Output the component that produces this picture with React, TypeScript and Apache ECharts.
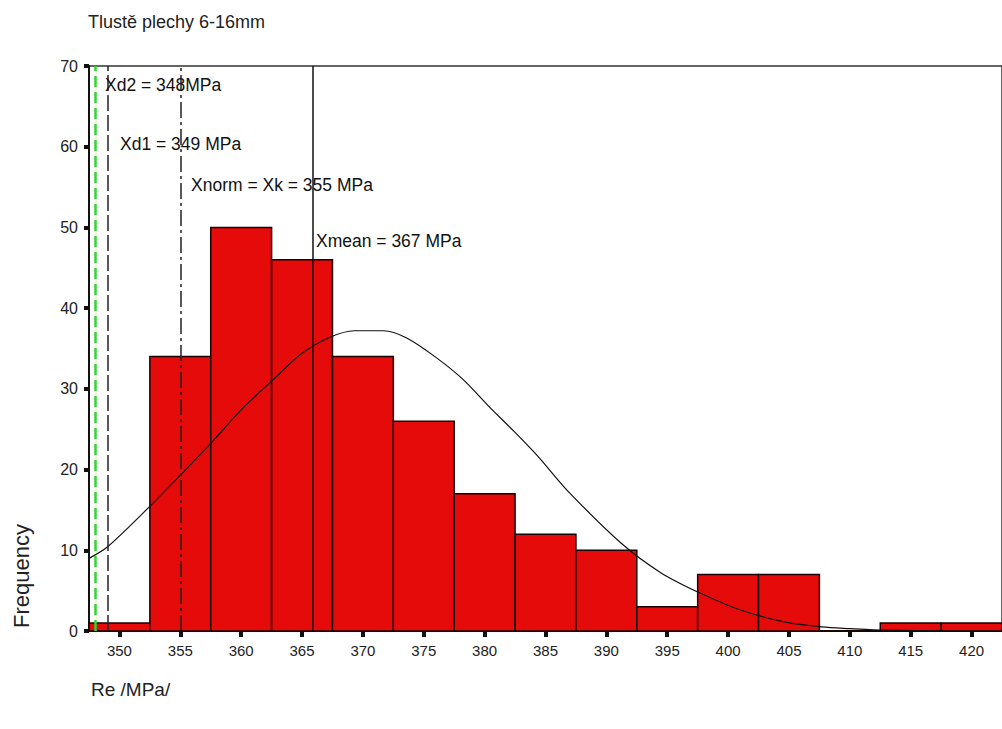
import React, { useEffect, useRef } from "react";
import * as echarts from "echarts";

const binCenters = [350, 355, 360, 365, 370, 375, 380, 385, 390, 395, 400, 405, 410, 415, 420];
const counts = [1, 34, 50, 46, 34, 26, 17, 12, 10, 3, 7, 7, 0, 1, 1];
const BIN_WIDTH = 5;

const curveX = [347.5, 349, 352.6, 355, 357.6, 360, 362.6, 365, 367.3, 369.3, 371.7, 373.6, 376, 378.2, 380.3, 382.5, 384.4, 386.8, 391.2, 394.5, 397.7, 401, 404.7, 407.7, 410, 413, 418, 422.5];
const curveY = [9.0, 10.4, 15.6, 19.3, 23.4, 27.4, 31.1, 34.4, 36.4, 37.2, 37.2, 36.3, 33.9, 31.2, 27.9, 24.6, 21.6, 17.4, 10.9, 7.2, 4.7, 2.6, 1.1, 0.5, 0.3, 0.1, 0.0, 0.0];

const xTicks = [350, 355, 360, 365, 370, 375, 380, 385, 390, 395, 400, 405, 410, 415, 420];

const refNames = ["Xd2", "Xd1", "Xnorm", "Xmean"];
const refValues = [348, 349, 355, 365.9];
const refLabels = ["Xd2 = 348MPa", "Xd1 = 349 MPa", "Xnorm = Xk = 355 MPa", "Xmean = 367 MPa"];

const FONT = "'Liberation Sans', Arial, sans-serif";

export default function App() {
  const ref = useRef<HTMLDivElement>(null);
  useEffect(() => {
    if (!ref.current) return;
    const chart = echarts.init(ref.current, undefined, { renderer: "svg" });
    const refStyles = [
      { color: "#2fd62f", width: 2.5, type: [11, 5] },
      { color: "#222", width: 1.5, type: [16, 4] },
      { color: "#222", width: 1.5, type: [16, 4, 3, 4] },
      { color: "#111", width: 1.5, type: "solid" },
    ];
    const labelPos = [
      [105, 85],
      [120, 144],
      [191, 185],
      [316, 241],
    ];
    chart.setOption({
      animation: false,
      backgroundColor: "#fff",
      grid: {
        left: 89,
        top: 66,
        bottom: 98,
        right: -11,
        show: true,
        borderColor: "#333",
        borderWidth: 1.5,
        backgroundColor: "transparent",
      },
      xAxis: {
        type: "value",
        min: 347.5,
        max: 422.5,
        axisLine: { show: true, onZero: false, lineStyle: { color: "#111", width: 2 } },
        axisTick: { show: true, customValues: xTicks, length: 6, lineStyle: { color: "#111", width: 4 } },
        axisLabel: { customValues: xTicks, fontSize: 15, color: "#222", fontFamily: FONT, margin: 12 },
        splitLine: { show: false },
      },
      yAxis: {
        type: "value",
        min: 0,
        max: 70,
        interval: 10,
        axisLine: { show: true, lineStyle: { color: "#111", width: 2 } },
        axisTick: { show: true, length: 5, lineStyle: { color: "#111", width: 4 } },
        axisLabel: { fontSize: 16, color: "#222", fontFamily: FONT, margin: 11 },
        splitLine: { show: false },
      },
      graphic: [
        { type: "text", left: 88, top: 13, style: { text: "Tlustě plechy 6-16mm", font: `18px ${FONT}`, fill: "#222" } },
        {
          type: "text",
          x: 21,
          y: 576,
          rotation: Math.PI / 2,
          style: { text: "Frequency", font: `22px ${FONT}`, fill: "#222", align: "center", verticalAlign: "middle" },
        },
        { type: "text", left: 91, top: 680, style: { text: "Re /MPa/", font: `19px ${FONT}`, fill: "#222" } },
        ...refLabels.map((t, i) => ({
          type: "text",
          x: labelPos[i][0],
          y: labelPos[i][1],
          z: 100,
          style: { text: t, font: `17.5px ${FONT}`, fill: "#111", verticalAlign: "middle" },
        })),
      ],
      series: [
        {
          type: "custom",
          name: "Frequency",
          data: binCenters.map((c, i) => [c, counts[i]]),
          renderItem: (params: any, api: any) => {
            const c = api.value(0);
            const v = api.value(1);
            const p1 = api.coord([c - BIN_WIDTH / 2, v]);
            const p2 = api.coord([c + BIN_WIDTH / 2, 0]);
            return {
              type: "rect",
              shape: { x: p1[0], y: p1[1], width: p2[0] - p1[0], height: p2[1] - p1[1] },
              style: { fill: "#e60b0b", stroke: "#1a0000", lineWidth: 1.5 },
            };
          },
          z: 1,
        },
        {
          type: "line",
          name: "Normal",
          data: curveX.map((x, i) => [x, curveY[i]]),
          showSymbol: false,
          smooth: 0.3,
          lineStyle: { color: "#111", width: 1.2 },
          z: 3,
          markLine: {
            silent: true,
            symbol: ["none", "none"],
            label: { show: false },
            data: refValues.map((v, i) => ({ name: refNames[i], xAxis: v, lineStyle: refStyles[i] })),
          },
        },
      ],
    });
    return () => chart.dispose();
  }, []);
  return <div ref={ref} style={{ position: "fixed", left: 0, top: 0, width: 1002, height: 729 }} />;
}
